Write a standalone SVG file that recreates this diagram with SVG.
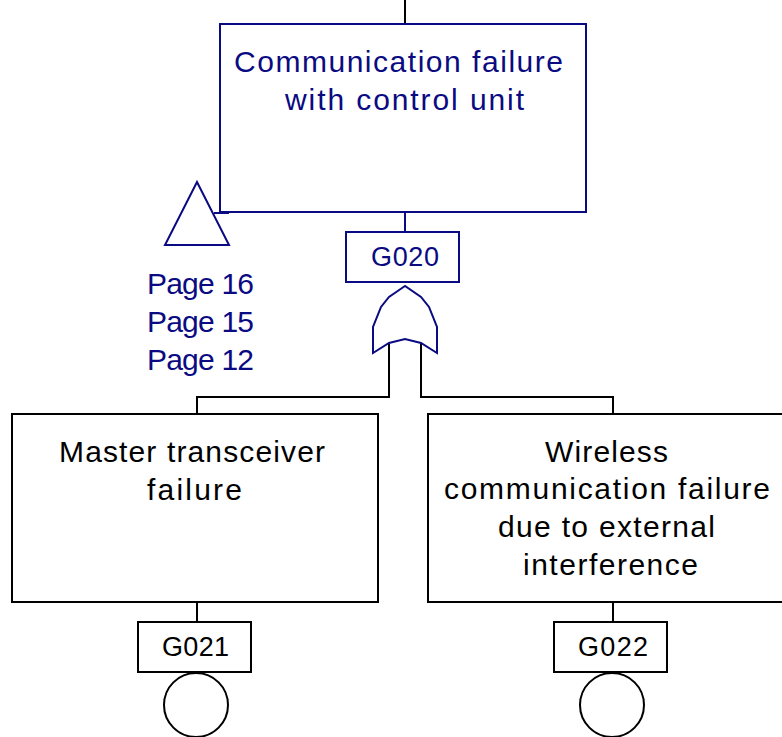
<svg xmlns="http://www.w3.org/2000/svg" width="782" height="737" viewBox="0 0 782 737">
  <style>
    .navy { fill: none; stroke: #0a0a82; stroke-width: 2; }
    .blk { fill: none; stroke: #000; stroke-width: 2; }
    .box-n { fill: #fff; stroke: #0a0a82; stroke-width: 2; }
    .box-k { fill: #fff; stroke: #000; stroke-width: 2; }
    text { font-family: "Liberation Sans", Arial, sans-serif; font-size: 30px; }
    text.id { font-size: 27px; }
    .tn { fill: #0a0a82; }
    .tk { fill: #000; }
  </style>

  <g id="connectors">
    <line class="blk" x1="405" y1="0" x2="405" y2="24"/>
    <line class="navy" x1="405" y1="212" x2="405" y2="232"/>
    <polyline class="blk" points="389,343 389,397 197,397 197,414"/>
    <polyline class="blk" points="421,343 421,397 613,397 613,414"/>
    <line class="blk" x1="197" y1="602" x2="197" y2="622"/>
    <line class="blk" x1="613" y1="602" x2="613" y2="622"/>
    <line class="navy" x1="214" y1="213" x2="229" y2="213"/>
  </g>

  <g id="top-event">
    <rect class="box-n" x="220" y="24" width="366" height="188"/>
    <text class="tn" x="234" y="72" textLength="329" lengthAdjust="spacing">Communication failure</text>
    <text class="tn" x="285" y="110" textLength="239" lengthAdjust="spacing">with control unit</text>
  </g>

  <g id="gate-G020">
    <rect class="box-n" x="346" y="232" width="113" height="50"/>
    <text class="tn id" x="371" y="266" textLength="68" lengthAdjust="spacing">G020</text>
    <path class="box-n" d="M405,286 L389,297 L381,307 L373,327 L373,353 L389,343 L405,339 L421,343 L437,353 L437,327 L429,307 L421,297 Z"/>
  </g>

  <g id="transfer">
    <polygon class="navy" points="197,182 165,245 229,245"/>
    <text class="tn" x="147" y="294" textLength="107" lengthAdjust="spacing">Page 16</text>
    <text class="tn" x="147" y="332" textLength="107" lengthAdjust="spacing">Page 15</text>
    <text class="tn" x="147" y="370" textLength="107" lengthAdjust="spacing">Page 12</text>
  </g>

  <g id="event-G021">
    <rect class="box-k" x="12" y="414" width="366" height="188"/>
    <text class="tk" x="59" y="462" textLength="266" lengthAdjust="spacing">Master transceiver</text>
    <text class="tk" x="147" y="500" textLength="95" lengthAdjust="spacing">failure</text>
    <rect class="box-k" x="138" y="622" width="113" height="50"/>
    <text class="tk id" x="162" y="656" textLength="67" lengthAdjust="spacing">G021</text>
    <circle class="blk" cx="196" cy="705" r="32"/>
  </g>

  <g id="event-G022">
    <rect class="box-k" x="428" y="414" width="366" height="188"/>
    <text class="tk" x="545" y="462" textLength="123" lengthAdjust="spacing">Wireless</text>
    <text class="tk" x="444" y="499" textLength="326" lengthAdjust="spacing">communication failure</text>
    <text class="tk" x="498" y="537" textLength="217" lengthAdjust="spacing">due to external</text>
    <text class="tk" x="523" y="575" textLength="175" lengthAdjust="spacing">interference</text>
    <rect class="box-k" x="554" y="622" width="113" height="50"/>
    <text class="tk id" x="578" y="656" textLength="70" lengthAdjust="spacing">G022</text>
    <circle class="blk" cx="612" cy="705" r="32"/>
  </g>
</svg>
